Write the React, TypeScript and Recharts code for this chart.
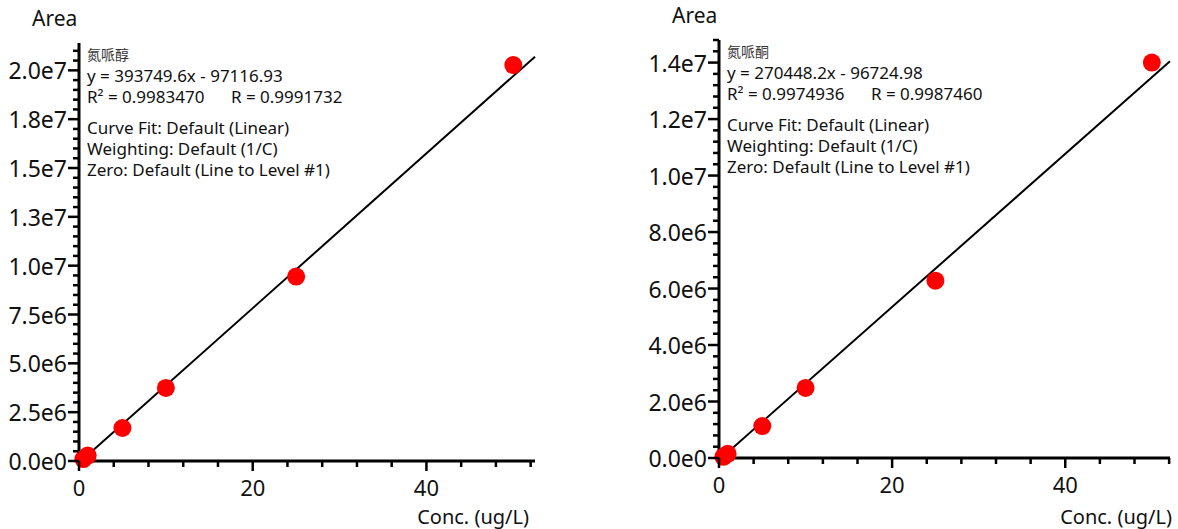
import React from 'react';
import { ComposedChart, Scatter, Line, XAxis, YAxis } from 'recharts';

const conc = [0.5, 1, 5, 10, 25, 50];
const areaLeft = [100000, 280000, 1690000, 3740000, 9440000, 20270000];
const areaRight = [40000, 150000, 1130000, 2480000, 6280000, 14000000];

const fitLeft = [{ x: 0.3, y: 20000 }, { x: 52.5, y: 20700000 }];
const fitRight = [{ x: 0.3, y: 10000 }, { x: 52.1, y: 14050000 }];

const xTicks = [0, 4, 8, 12, 16, 20, 24, 28, 32, 36, 40, 44, 48, 52];
const xMajor: Record<number, string> = { 0: '0', 20: '20', 40: '40' };

const yTicksLeft: number[] = [];
for (let v = 0; v <= 21000000; v += 500000) yTicksLeft.push(v);
const yMajorLeft: Record<number, string> = {
  0: '0.0e0', 2500000: '2.5e6', 5000000: '5.0e6', 7500000: '7.5e6', 10000000: '1.0e7',
  12500000: '1.3e7', 15000000: '1.5e7', 17500000: '1.8e7', 20000000: '2.0e7',
};

const yTicksRight: number[] = [];
for (let v = 0; v <= 14800000; v += 400000) yTicksRight.push(v);
const yMajorRight: Record<number, string> = {
  0: '0.0e0', 2000000: '2.0e6', 4000000: '4.0e6', 6000000: '6.0e6', 8000000: '8.0e6',
  10000000: '1.0e7', 12000000: '1.2e7', 14000000: '1.4e7',
};

const textLeft = [
  '氮哌醇',
  'y = 393749.6x - 97116.93',
  'R² = 0.9983470      R = 0.9991732',
  'Curve Fit: Default (Linear)',
  'Weighting: Default (1/C)',
  'Zero: Default (Line to Level #1)',
];
const textRight = [
  '氮哌酮',
  'y = 270448.2x - 96724.98',
  'R² = 0.9974936      R = 0.9987460',
  'Curve Fit: Default (Linear)',
  'Weighting: Default (1/C)',
  'Zero: Default (Line to Level #1)',
];

const FONT = '"Noto Sans", "Open Sans", sans-serif';

const makeYTick = (major: Record<number, string>) => (props: any) => {
  const { x, y, payload } = props;
  const label = major[payload.value];
  const len = label !== undefined ? 11 : 6;
  return (
    <g>
      <line x1={x - len} x2={x} y1={y} y2={y} stroke="#000" strokeWidth={2.5} />
      {label !== undefined && (
        <text x={x - 12} y={y} textAnchor="end" dominantBaseline="central"
          fontSize={23} fontFamily={FONT} fill="#111">{label}</text>
      )}
    </g>
  );
};

const XTick = (props: any) => {
  const { x, y, payload } = props;
  const label = xMajor[payload.value];
  const len = label !== undefined ? 10 : 6;
  return (
    <g>
      <line x1={x} x2={x} y1={y} y2={y + len} stroke="#000" strokeWidth={2.5} />
      {label !== undefined && (
        <text x={x} y={y + 26} textAnchor="middle" dominantBaseline="central"
          fontSize={22} fontFamily={FONT} fill="#111">{label}</text>
      )}
    </g>
  );
};

const dot = (p: any) => <circle cx={p.cx} cy={p.cy} r={9} fill="#ff0000" />;

function Plot({ left, width, top, xAxisH, plotW, xMax, yMax, yTicks, yMajor, pts, fit, lines, labelRight }: any) {
  const data = conc.map((c, i) => ({ x: c, y: pts[i] }));
  return (
    <div style={{ position: 'absolute', left, top: 0, width, height: 529 }}>
      <ComposedChart width={width} height={529}
        margin={{ top, right: width - 79 - plotW, bottom: 0, left: 0 }}>
        <XAxis type="number" dataKey="x" domain={[0, xMax]} ticks={xTicks} interval={0}
          tickSize={0} tickMargin={0} tick={XTick} height={xAxisH}
          axisLine={{ stroke: '#000', strokeWidth: 3 }} />
        <YAxis type="number" dataKey="y" domain={[0, yMax]} ticks={yTicks} interval={0}
          tickSize={0} tickMargin={0} tick={makeYTick(yMajor)} width={79}
          axisLine={{ stroke: '#000', strokeWidth: 3 }} />
        <Scatter data={data} shape={dot} isAnimationActive={false} />
        <Line data={fit} dataKey="y" type="linear" stroke="#000" strokeWidth={2}
          dot={false} activeDot={false} isAnimationActive={false} />
      </ComposedChart>
      <div style={{ position: 'absolute', left: 32, top: top - 38, fontFamily: FONT, fontSize: 21, lineHeight: '26px', color: '#111' }}>Area</div>
      <div style={{ position: 'absolute', right: width - labelRight, top: 504, fontFamily: FONT, fontSize: 20, lineHeight: '26px', color: '#111', whiteSpace: 'nowrap' }}>Conc. (ug/L)</div>
      <div style={{ position: 'absolute', left: 87, top: top + 1, fontFamily: FONT, fontSize: 17, color: '#111', whiteSpace: 'pre', lineHeight: '21px' }}>
        {lines.map((t: string, i: number) => (
          <div key={i} style={{
            marginTop: i === 3 ? 10 : 0,
            fontSize: i === 0 ? 14 : 17,
            fontFamily: i === 0 ? '"Noto Sans CJK SC", sans-serif' : FONT,
            color: i === 0 ? '#333' : '#111',
          }}>{t}</div>
        ))}
      </div>
    </div>
  );
}

export default function App() {
  return (
    <div style={{ position: 'absolute', left: 0, top: 0, width: 1178, height: 529, background: '#fff' }}>
      <Plot left={0} width={590} top={43} xAxisH={68} plotW={456} xMax={52.5} yMax={21400000}
        yTicks={yTicksLeft} yMajor={yMajorLeft} pts={areaLeft} fit={fitLeft} lines={textLeft} labelRight={529} />
      <Plot left={640} width={538} top={40} xAxisH={71} plotW={451} xMax={52.1} yMax={14800000}
        yTicks={yTicksRight} yMajor={yMajorRight} pts={areaRight} fit={fitRight} lines={textRight} labelRight={532} />
    </div>
  );
}
